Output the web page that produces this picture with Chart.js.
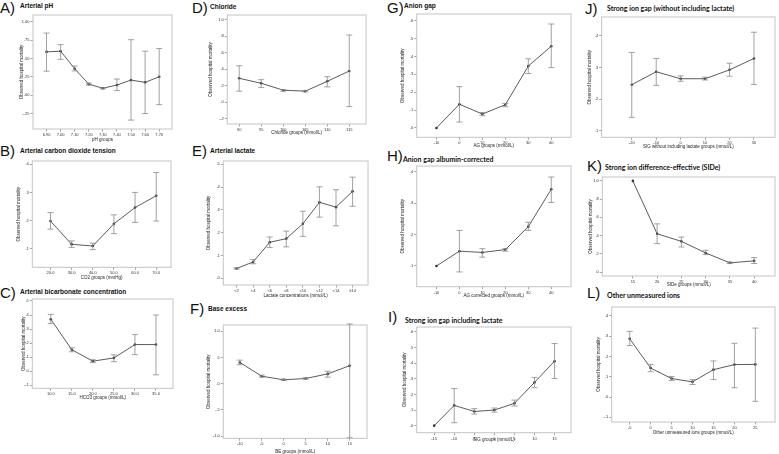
<!DOCTYPE html>
<html>
<head>
<meta charset="utf-8">
<script src="https://cdn.jsdelivr.net/npm/chart.js@4"></script>
<style>
body { margin: 0; background: #fff; width: 779px; height: 454px; overflow: hidden; position: relative; font-family: "Liberation Sans", Arial, sans-serif; }
.lbl { position: absolute; font-size: 15px; line-height: 15px; color: #111; }
.ttl { position: absolute; font-size: 6.5px; line-height: 8px; font-weight: bold; color: #111; white-space: nowrap; }
.cal { font-family: Lato, sans-serif; font-size: 7px; }
canvas { position: absolute; }
</style>
</head>
<body>
<div class="lbl" style="left:0;top:0">A)</div><div class="ttl" style="left:20px;top:2px">Arterial pH</div>
<div class="lbl" style="left:0;top:143px">B)</div><div class="ttl" style="left:20px;top:147px">Arterial carbon dioxide tension</div>
<div class="lbl" style="left:0;top:285px">C)</div><div class="ttl" style="left:20px;top:288px">Arterial bicarbonate concentration</div>
<div class="lbl" style="left:192px;top:0">D)</div><div class="ttl" style="left:210px;top:3px">Chloride</div>
<div class="lbl" style="left:192px;top:143px">E)</div><div class="ttl" style="left:210px;top:147px">Arterial lactate</div>
<div class="lbl" style="left:190px;top:301px">F)</div><div class="ttl" style="left:208px;top:305px">Base excess</div>
<div class="lbl" style="left:387px;top:0">G)</div><div class="ttl" style="left:404px;top:2px">Anion gap</div>
<div class="lbl" style="left:387px;top:148px">H)</div><div class="ttl cal" style="left:403px;top:155px">Anion gap albumin-corrected</div>
<div class="lbl" style="left:388px;top:309px">I)</div><div class="ttl cal" style="left:405px;top:316px">Strong ion gap including lactate</div>
<div class="lbl" style="left:585px;top:1px">J)</div><div class="ttl cal" style="left:607px;top:4px">Strong ion gap (without including lactate)</div>
<div class="lbl" style="left:587px;top:158px">K)</div><div class="ttl cal" style="left:605px;top:163px">Strong ion difference-effective (SIDe)</div>
<div class="lbl" style="left:587px;top:285px">L)</div><div class="ttl cal" style="left:607px;top:291px">Other unmeasured ions</div>

<script>
// A) Arterial pH
const phGroups = ['6.90', '7.00', '7.10', '7.20', '7.30', '7.40', '7.50', '7.60', '7.70'];
const phMort = [.589, .598, .36, .15, .094, .138, .205, .174, .25];
const phLow = [.326, .487, .33, .138, .085, .0625, -.339, -.25, -.129];
const phHigh = [.844, .6875, .397, .165, .10, .219, .754, .598, .634];
const phTicks = [-.25, 0, .25, .5, .75, 1];

// B) Arterial carbon dioxide tension
const co2Groups = ['20.0', '30.0', '40.0', '50.0', '60.0', '70.0'];
const co2Mort = [.198, .115, .109, .188, .246, .288];
const co2Low = [.169, .104, .096, .153, .193, .198];
const co2High = [.228, .127, .119, .22, .3, .371];
const co2Ticks = [.1, .2, .3, .4];

// C) Arterial bicarbonate concentration
const hco3Groups = ['10.0', '15.0', '20.0', '25.0', '30.0', '35.0'];
const hco3Mort = [.37, .153, .072, .095, .19, .19];
const hco3Low = [.339, .139, .063, .068, .118, -.025];
const hco3High = [.405, .167, .082, .117, .261, .40];
const hco3Ticks = [-.1, 0, .1, .2, .3, .4, .5];

// D) Chloride
const clGroups = ['90', '95', '100', '105', '110', '115'];
const clMort = [.289, .228, .144, .132, .252, .377];
const clLow = [.132, .176, .132, .124, .184, -.056];
const clHigh = [.441, .272, .152, .140, .309, .816];
const clTicks = [-.2, 0, .2, .4, .6, .8, 1];

// E) Arterial lactate
const lacGroups = ['<2', '<4', '<6', '<8', '<10', '<12', '<14', '≥14'];
const lacMort = [.043, .072, .158, .174, .239, .333, .312, .381];
const lacLow = [.041, .064, .135, .138, .184, .268, .23, .316];
const lacHigh = [.046, .083, .181, .207, .294, .401, .388, .443];
const lacTicks = [0, .1, .2, .3, .4, .5];

// F) Base excess
const beGroups = ['-10', '-5', '0', '5', '10', '15'];
const beMort = [.406, .144, .075, .1, .188, .344];
const beLow = [.363, .125, .063, .088, .125, -1.03];
const beHigh = [.45, .163, .088, .113, .238, 1.14];
const beTicks = [-1, -.5, 0, .5, 1];

// G) Anion gap
const agGroups = ['-10', '0', '10', '20', '30', '40'];
const agMort = [0, .133, .078, .13, .346, .457];
const agLow = [null, .033, .069, .119, .304, .337];
const agHigh = [null, .231, .087, .137, .387, .581];
const agTicks = [0, .1, .2, .3, .4, .5, .6];

// H) Anion gap albumin-corrected
const agcGroups = ['-10', '0', '10', '20', '30', '40'];
const agcMort = [.1, .147, .143, .152, .225, .344];
const agcLow = [null, .081, .128, .147, .213, .302];
const agcHigh = [null, .213, .155, .155, .239, .383];
const agcTicks = [.1, .2, .3, .4];

// I) Strong ion gap including lactate
const sigGroups = ['-15', '-10', '-5', '0', '5', '10', '15'];
const sigMort = [0, .13, .091, .1, .143, .277, .413];
const sigLow = [null, .019, .074, .087, .126, .243, .302];
const sigHigh = [null, .238, .109, .113, .164, .309, .526];
const sigTicks = [0, .1, .2, .3, .4, .5, .6];

// J) Strong ion gap (without lactate)
const signlGroups = ['-20', '-10', '0', '10', '20', '30'];
const signlMort = [.246, .287, .265, .265, .293, .329];
const signlLow = [.143, .244, .257, .261, .273, .247];
const signlHigh = [.348, .329, .274, .27, .314, .412];
const signlTicks = [.1, .2, .3, .4];

// K) SIDe
const sideGroups = ['15', '20', '25', '30', '35', '40'];
const sideMort = [1, .42, .337, .21, .101, .123];
const sideLow = [null, .312, .275, .192, .094, .094];
const sideHigh = [null, .529, .384, .239, .109, .159];
const sideTicks = [0, .2, .4, .6, .8, 1];

// L) Other unmeasured ions
const uiGroups = ['-5', '0', '5', '10', '15', '20', '25'];
const uiMort = [.287, .143, .091, .075, .135, .16, .161];
const uiLow = [.254, .125, .081, .062, .086, .046, -.021];
const uiHigh = [.324, .161, .101, .086, .178, .265, .34];
const uiTicks = [-.1, 0, .1, .2, .3, .4];

// box: [plot left, top, right, bottom, y axis width, x axis height]
const panels = [
	{ labels: phGroups, mort: phMort, low: phLow, high: phHigh, ticks: phTicks, dec: 2, yMin: -.46, yMax: 1.09, xMin: .04, xMax: 9.91, xTitle: 'pH groups', box: [33, 14, 174, 129, 14, 13] },
	{ labels: co2Groups, mort: co2Mort, low: co2Low, high: co2High, ticks: co2Ticks, dec: 1, yMin: .033, yMax: .412, xMin: .14, xMax: 6.7, xTitle: 'CO2 groups (mmHg)', box: [32.3, 160, 172.7, 267.3, 16, 12] },
	{ labels: hco3Groups, mort: hco3Mort, low: hco3Low, high: hco3High, ticks: hco3Ticks, dec: 1, yMin: -.121, yMax: .514, xMin: .12, xMax: 6.81, xTitle: 'HCO3 groups (mmol/L)', box: [32.3, 298, 175, 388.3, 10.5, 11] },
	{ labels: clGroups, mort: clMort, low: clLow, high: clHigh, ticks: clTicks, dec: 1, yMin: -.268, yMax: 1.06, xMin: .46, xMax: 6.76, xTitle: 'Chloride groups (mmol/L)', box: [227.3, 14, 367.7, 124, 19, 10.5] },
	{ labels: lacGroups, mort: lacMort, low: lacLow, high: lacHigh, ticks: lacTicks, dec: 1, yMin: -.029, yMax: .514, xMin: .2, xMax: 8.93, xTitle: 'Lactate concentrations (mmol/L)', box: [223.3, 160, 370, 285, 17, 12.5] },
	{ labels: beGroups, mort: beMort, low: beLow, high: beHigh, ticks: beTicks, dec: 1, yMin: -1.04, yMax: 1.12, xMin: .25, xMax: 6.79, xTitle: 'BE groups (mmol/L)', box: [223.3, 324, 369.3, 438.3, 17, 15] },
	{ labels: agGroups, mort: agMort, low: agLow, high: agHigh, ticks: agTicks, dec: 1, yMin: -.052, yMax: .637, xMin: .14, xMax: 6.86, xTitle: 'AG groups (mmol/L)', box: [416.7, 13.3, 572.7, 137.3, 16, 10] },
	{ labels: agcGroups, mort: agcMort, low: agcLow, high: agcHigh, ticks: agcTicks, dec: 1, yMin: .034, yMax: .418, xMin: .14, xMax: 6.86, xTitle: 'AG corrected groups (mmol/L)', box: [416.7, 165, 572.7, 286.7, 16, 11] },
	{ labels: sigGroups, mort: sigMort, low: sigLow, high: sigHigh, ticks: sigTicks, dec: 1, yMin: -.045, yMax: .632, xMin: .13, xMax: 7.82, xTitle: 'SIG groups (mmol/L)', box: [416.7, 326.7, 572.7, 432.7, 14, 9] },
	{ labels: signlGroups, mort: signlMort, low: signlLow, high: signlHigh, ticks: signlTicks, dec: 1, yMin: .08, yMax: .46, xMin: -.23, xMax: 6.86, xTitle: 'SIG without including lactate groups (mmol/L)', box: [601.7, 16, 777.5, 137.3, 14, 11] },
	{ labels: sideGroups, mort: sideMort, low: sideLow, high: sideHigh, ticks: sideTicks, dec: 1, yMin: -.043, yMax: 1.043, xMin: -.26, xMax: 6.86, xTitle: 'SIDe groups (mmol/L)', box: [602.3, 176, 777.5, 276, 13.5, 11] },
	{ labels: uiGroups, mort: uiMort, low: uiLow, high: uiHigh, ticks: uiTicks, dec: 1, yMin: -.123, yMax: .444, xMin: .14, xMax: 7.94, xTitle: 'Other unmeasured ions groups (mmol/L)', box: [611.7, 306, 777.5, 422, 15, 13] },
];

const fmt = (v, dec) => v.toFixed(dec).replace(/^(-?)0\./, '$1.');

const frame = {
	id: 'frame',
	beforeDatasetsDraw(chart) {
		const { ctx, chartArea: a } = chart;
		ctx.save();
		ctx.strokeStyle = '#c4c4c4';
		ctx.lineWidth = 1;
		ctx.strokeRect(a.left, a.top, a.right - a.left, a.bottom - a.top);
		ctx.restore();
	},
};

const errorBars = {
	id: 'errorBars',
	afterDatasetsDraw(chart) {
		const { ctx, scales: { x, y } } = chart;
		const ds = chart.data.datasets[0];
		ctx.save();
		ctx.strokeStyle = '#8a8a8a';
		ctx.lineWidth = 0.8;
		ds.data.forEach((pt, i) => {
			if (ds.low[i] == null) {
				return;
			}
			const px = x.getPixelForValue(pt.x);
			const yl = y.getPixelForValue(ds.low[i]);
			const yh = y.getPixelForValue(ds.high[i]);
			ctx.beginPath();
			ctx.moveTo(px, yl); ctx.lineTo(px, yh);
			ctx.moveTo(px - 3, yl); ctx.lineTo(px + 3, yl);
			ctx.moveTo(px - 3, yh); ctx.lineTo(px + 3, yh);
			ctx.stroke();
		});
		ctx.restore();
	},
};

const tickFont = { family: 'Liberation Sans', size: 4 };
const titleFont = { family: 'Liberation Sans', size: 4.5 };

function drawPanel(p) {
	const [L, T, R, B, yw, xh] = p.box;
	const left = Math.floor(L - yw);
	const top = Math.floor(T - 3);
	const width = Math.ceil(R + 1.5) - left;
	const height = Math.ceil(B + xh) - top;
	const yW = L - left;
	const xH = top + height - B;

	const cv = document.createElement('canvas');
	cv.width = width;
	cv.height = height;
	cv.style.left = left + 'px';
	cv.style.top = top + 'px';
	document.body.appendChild(cv);

	new Chart(cv, {
		type: 'line',
		data: {
			datasets: [
				{
					data: p.mort.map((v, i) => ({ x: i + 1, y: v })),
					low: p.low,
					high: p.high,
					borderColor: '#4a4a4a',
					borderWidth: 0.9,
					pointRadius: 1.3,
					pointBackgroundColor: '#333',
					pointBorderWidth: 0,
					tension: 0,
				},
			],
		},
		options: {
			responsive: false,
			animation: false,
			devicePixelRatio: 1,
			layout: {
				padding: { top: T - top, right: width - (R - left), left: 0, bottom: 0 },
			},
			plugins: {
				legend: { display: false },
				tooltip: { enabled: false },
			},
			scales: {
				x: {
					type: 'linear',
					min: p.xMin,
					max: p.xMax,
					afterBuildTicks: (s) => { s.ticks = p.labels.map((_, i) => ({ value: i + 1 })); },
					afterFit: (s) => { s.height = xH; },
					border: { display: false },
					grid: { drawOnChartArea: false, tickLength: 2.5, color: '#666', lineWidth: 0.6 },
					ticks: { autoSkip: false, maxRotation: 0, padding: 1, font: tickFont, color: '#333', callback: (v) => p.labels[Math.round(v) - 1] },
					title: { display: true, text: p.xTitle, font: titleFont, color: '#222', padding: 0 },
				},
				y: {
					min: p.yMin,
					max: p.yMax,
					afterBuildTicks: (s) => { s.ticks = p.ticks.map((v) => ({ value: v })); },
					afterFit: (s) => { s.width = yW; },
					border: { display: false },
					grid: { drawOnChartArea: false, tickLength: 2.5, color: '#666', lineWidth: 0.6 },
					ticks: { padding: 1, font: tickFont, color: '#333', callback: (v) => fmt(v, p.dec) },
					title: { display: true, text: 'Observed hospital mortality', font: titleFont, color: '#222', padding: 0 },
				},
			},
		},
		plugins: [frame, errorBars],
	});
}

panels.forEach(drawPanel);
</script>
</body>
</html>
